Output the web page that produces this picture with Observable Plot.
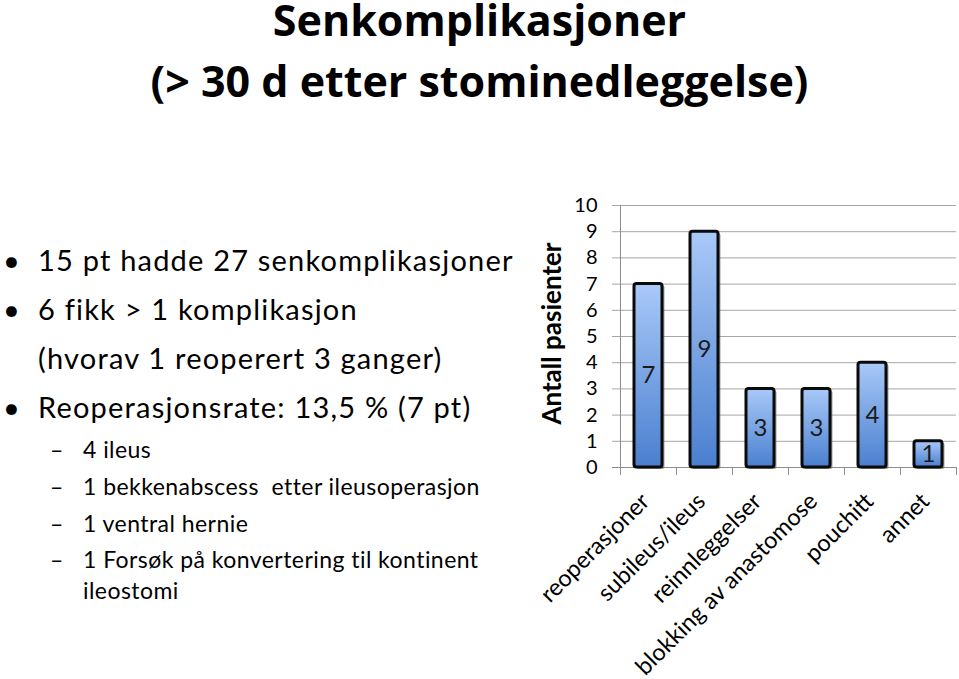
<!DOCTYPE html>
<html><head><meta charset="utf-8">
<script src="https://cdn.jsdelivr.net/npm/d3@7"></script>
<script src="https://cdn.jsdelivr.net/npm/@observablehq/plot@0.6"></script>
<style>
html,body{margin:0;padding:0;background:#fff}
body{width:959px;height:679px;position:relative;overflow:hidden;font-family:Lato,sans-serif;color:#000}
.t{position:absolute;white-space:pre}
.title{font-family:"Open Sans",sans-serif;font-weight:bold;left:0;width:959px;text-align:center}
#chart{position:absolute;left:530px;top:190px}
</style></head><body>
<div id="root"></div>
<div id="chart"></div>
<script>
// ---- data ----
const titleLines = ["Senkomplikasjoner", "(> 30 d etter stominedleggelse)"];
const bulletItems = ["15 pt hadde 27 senkomplikasjoner", "6 fikk > 1 komplikasjon", "(hvorav 1 reoperert 3 ganger)", "Reoperasjonsrate: 13,5 % (7 pt)"];
const bulletMarks = [true, true, false, true];
const subItems = ["4 ileus", "1 bekkenabscess  etter ileusoperasjon", "1 ventral hernie", "1 Forsøk på konvertering til kontinent", "ileostomi"];
const subDashes = [true, true, true, true, false];
const categories = ["reoperasjoner", "subileus/ileus", "reinnleggelser", "blokking av anastomose", "pouchitt", "annet"];
const values = [7, 9, 3, 3, 4, 1];
const yTicks = [0, 1, 2, 3, 4, 5, 6, 7, 8, 9, 10];
const yLabel = "Antall pasienter";

// ---- text layout ----
const root = document.getElementById("root");
const LATO = [0.987, 0.213], OPEN = [1.069, 0.293];
function addText(cls, txt, left, baseline, size, lh, ls, m) {
  const d = document.createElement("div");
  d.className = "t " + cls;
  d.textContent = txt;
  d.style.fontSize = size + "px";
  d.style.lineHeight = lh;
  if (ls) d.style.letterSpacing = ls + "px";
  d.style.top = (baseline - ((lh - m[0] - m[1]) / 2 + m[0]) * size) + "px";
  if (left != null) d.style.left = left + "px";
  root.appendChild(d);
  return d;
}
const titleBase = [37, 98];
titleLines.forEach((t, i) => addText("title", t, null, titleBase[i], 43, 0.8, 0, OPEN));
const bBase = [271, 320, 369, 418];
bulletItems.forEach((t, i) => {
  addText("b", t, 38, bBase[i], 29, 1, 1.2, LATO);
  if (bulletMarks[i]) addText("b", "•", 3, bBase[i], 29, 1, 0, LATO);
});
const sBase = [458, 495, 532, 568, 599];
subItems.forEach((t, i) => {
  addText("s", t, 83, sBase[i], 23, 1, 0.45, LATO);
  if (subDashes[i]) addText("s", "–", 50, sBase[i], 23, 1, 0, LATO);
});

// ---- chart ----
const data = categories.map((c, i) => ({cat: c, val: values[i]}));
const gridColor = "#a6a6a6";
const axisColor = "#8c8c8c";
const plot = Plot.plot({
  width: 429, height: 489,
  marginLeft: 90, marginRight: 3, marginTop: 15, marginBottom: 212,
  style: {fontFamily: "Lato, sans-serif", fontSize: "20px", color: "#000", background: "transparent", overflow: "visible"},
  x: {domain: categories, paddingInner: 0.5, paddingOuter: 0.25, axis: null},
  y: {domain: [0, 10], axis: null},
  marks: [
    Plot.gridY(yTicks, {stroke: gridColor, strokeOpacity: 1, strokeWidth: 1, insetLeft: -8}),
    Plot.frame({anchor: "left", stroke: axisColor}),
    Plot.ruleY([0], {stroke: axisColor, insetLeft: -8}),
    Plot.ruleX(categories, {x: d => d, y1: 0, y2: 0, dx: -28, insetBottom: -8, stroke: axisColor}),
    Plot.ruleX(categories.slice(-1), {x: d => d, y1: 0, y2: 0, dx: 28, insetBottom: -8, stroke: axisColor}),
    Plot.axisY(yTicks, {tickSize: 0, tickPadding: 23, fontSize: 20, fill: "#000", label: null, tickFormat: d => String(d)}),
    Plot.text([yLabel], {frameAnchor: "left", textAnchor: "middle", rotate: -90, dx: -68, dy: -3, fontWeight: "bold", fontSize: 26, fill: "#000"}),
    Plot.barY(data, {x: "cat", y: "val", fill: "#555", fillOpacity: 0.55, dx: 2.5, dy: 2, rx: 2}),
    Plot.barY(data, {x: "cat", y: "val", fill: "url(#barGrad)", stroke: "#0a0a0a", strokeWidth: 3, rx: 2.5}),
    Plot.text(data, {x: "cat", y: d => d.val / 2, text: d => String(d.val), fontSize: 24, fill: "#1a1a1a"}),
    Plot.text(categories, {x: d => d, y: 0, text: d => d, rotate: -45, textAnchor: "end", dy: 30, dx: -3, fontSize: 23.5, fill: "#000"})
  ]
});
const defs = d3.select(plot).insert("defs", ":first-child");
const g = defs.append("linearGradient").attr("id", "barGrad").attr("x1", 0).attr("y1", 0).attr("x2", 0).attr("y2", 1);
g.append("stop").attr("offset", "0%").attr("stop-color", "#a9c9f8");
g.append("stop").attr("offset", "100%").attr("stop-color", "#4a7fcf");
document.getElementById("chart").appendChild(plot);
</script>
</body></html>
